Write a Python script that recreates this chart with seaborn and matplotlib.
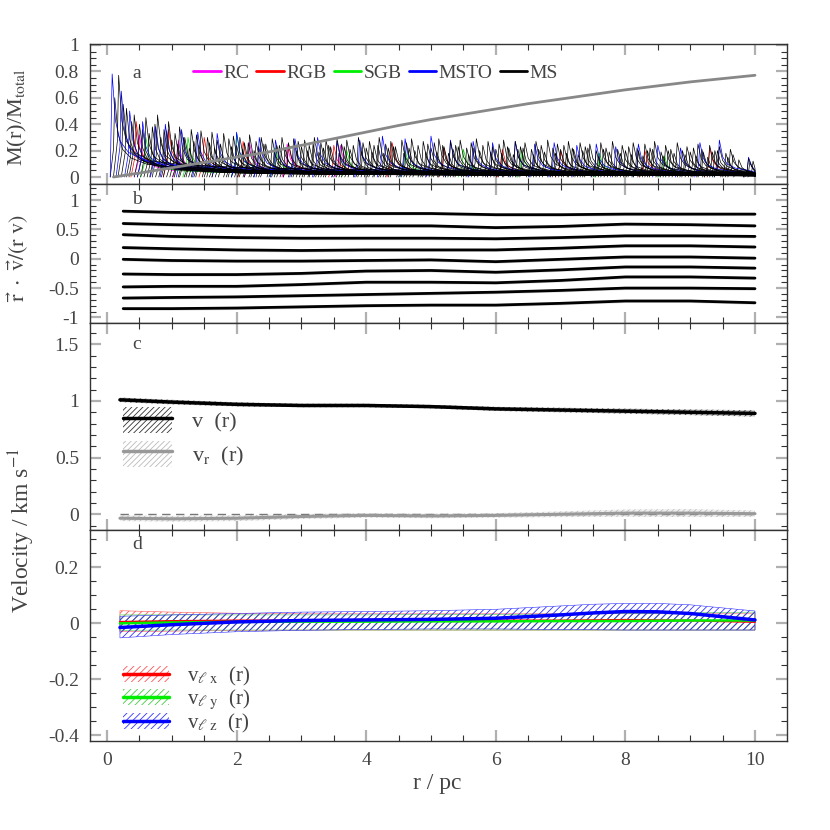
import numpy as np
import pandas as pd
import seaborn as sns
import matplotlib.pyplot as plt
from matplotlib.lines import Line2D
from matplotlib.patches import Patch
from matplotlib.ticker import MultipleLocator, FormatStrFormatter

# ---- panel a: peak positions / heights of the individual curves, per class
black_r = [0.18, 0.3, 0.42, 0.5, 0.6, 0.7, 0.78, 0.88, 0.95,
           1.05, 1.12, 1.2, 1.3, 1.38, 1.45, 1.55, 1.62, 1.7, 1.8, 1.88, 1.95,
           2.05, 2.12, 2.2, 2.3, 2.38, 2.45, 2.55, 2.62, 2.7, 2.8, 2.88, 2.95,
           3.05, 3.12, 3.2, 3.3, 3.38, 3.45, 3.55, 3.62, 3.7, 3.8, 3.88, 3.95,
           4.05, 4.12, 4.2, 4.3, 4.38, 4.45, 4.55, 4.62, 4.7, 4.8, 4.88, 4.95,
           5.05, 5.12, 5.2, 5.3, 5.38, 5.45, 5.55, 5.62, 5.7, 5.8, 5.88, 5.95,
           6.05, 6.12, 6.2, 6.3, 6.38, 6.45, 6.55, 6.62, 6.7, 6.8, 6.88, 6.95,
           7.05, 7.12, 7.2, 7.3, 7.38, 7.45, 7.55, 7.62, 7.7, 7.8, 7.88, 7.95,
           8.05, 8.12, 8.2, 8.3, 8.38, 8.45, 8.55, 8.62, 8.7, 8.8, 8.88, 8.95,
           9.05, 9.12, 9.2, 9.3, 9.38, 9.45, 9.55, 9.62, 9.9, 9.97]
black_h = [0.77, 0.52, 0.47, 0.40, 0.45, 0.38, 0.47, 0.36, 0.42,
           0.33, 0.38, 0.30, 0.36, 0.32, 0.35, 0.30, 0.34, 0.28, 0.33, 0.29, 0.31,
           0.30, 0.26, 0.32, 0.27, 0.30, 0.25, 0.29, 0.24, 0.30, 0.26, 0.29, 0.27,
           0.28, 0.24, 0.30, 0.26, 0.28, 0.23, 0.29, 0.25, 0.28, 0.24, 0.30, 0.26,
           0.27, 0.24, 0.30, 0.25, 0.27, 0.23, 0.28, 0.26, 0.29, 0.24, 0.27, 0.25,
           0.26, 0.29, 0.23, 0.27, 0.24, 0.28, 0.22, 0.26, 0.29, 0.24, 0.27, 0.23,
           0.25, 0.28, 0.22, 0.27, 0.23, 0.26, 0.21, 0.27, 0.24, 0.28, 0.22, 0.25,
           0.24, 0.27, 0.21, 0.26, 0.23, 0.25, 0.20, 0.26, 0.22, 0.27, 0.21, 0.24,
           0.23, 0.26, 0.20, 0.25, 0.22, 0.27, 0.19, 0.24, 0.21, 0.26, 0.20, 0.23,
           0.22, 0.25, 0.19, 0.24, 0.20, 0.23, 0.18, 0.21, 0.14, 0.12]
black2_r = [0.12, 0.25, 0.38, 0.55, 0.65, 0.74, 0.83, 0.92,
            1.0, 1.09, 1.18, 1.27, 1.34, 1.42, 1.58, 1.66, 1.75, 1.92,
            2.0, 2.09, 2.18, 2.27, 2.34, 2.42, 2.58, 2.66, 2.75, 2.92,
            3.0, 3.09, 3.18, 3.27, 3.34, 3.42, 3.58, 3.66, 3.75, 3.92,
            4.0, 4.09, 4.18, 4.27, 4.34, 4.42, 4.58, 4.66, 4.75, 4.92,
            5.0, 5.09, 5.18, 5.27, 5.34, 5.42, 5.58, 5.66, 5.75, 5.92,
            6.0, 6.09, 6.18, 6.27, 6.34, 6.42, 6.58, 6.66, 6.75, 6.92,
            7.0, 7.09, 7.18, 7.27, 7.34, 7.42, 7.58, 7.66, 7.75, 7.92,
            8.0, 8.09, 8.18, 8.27, 8.34, 8.42, 8.58, 8.66, 8.75, 8.92,
            9.0, 9.09, 9.18, 9.27, 9.34, 9.42, 9.58, 9.66, 9.75, 9.92]
black2_h = [0.60, 0.55, 0.42, 0.36, 0.33, 0.40, 0.30, 0.35,
            0.28, 0.25, 0.30, 0.22, 0.27, 0.24, 0.26, 0.22, 0.25, 0.23,
            0.24, 0.21, 0.26, 0.20, 0.23, 0.25, 0.19, 0.24, 0.22, 0.20,
            0.23, 0.20, 0.25, 0.19, 0.22, 0.24, 0.18, 0.23, 0.21, 0.20,
            0.22, 0.19, 0.24, 0.18, 0.22, 0.23, 0.18, 0.22, 0.20, 0.19,
            0.22, 0.19, 0.24, 0.18, 0.21, 0.23, 0.17, 0.22, 0.20, 0.19,
            0.21, 0.18, 0.23, 0.17, 0.21, 0.22, 0.17, 0.21, 0.19, 0.18,
            0.21, 0.18, 0.22, 0.17, 0.20, 0.22, 0.16, 0.21, 0.19, 0.18,
            0.20, 0.17, 0.22, 0.16, 0.20, 0.21, 0.16, 0.20, 0.18, 0.17,
            0.19, 0.16, 0.21, 0.15, 0.19, 0.20, 0.15, 0.17, 0.13, 0.11]
blue_r = [0.08, 0.22, 0.35, 0.55, 0.75, 0.9, 1.15, 1.4, 1.7, 2.0, 2.35, 2.6,
          2.9, 3.25, 3.55, 3.9, 4.25, 4.6, 5.0, 5.3, 5.65, 5.95, 6.3, 6.6,
          6.9, 7.25, 7.55, 7.85, 8.2, 8.5, 8.85, 9.15, 9.45, 9.9]
blue_h = [0.78, 0.65, 0.50, 0.42, 0.38, 0.40, 0.36, 0.34, 0.33, 0.34, 0.30, 0.28,
          0.29, 0.30, 0.27, 0.28, 0.31, 0.29, 0.31, 0.28, 0.27, 0.26, 0.27, 0.25,
          0.26, 0.24, 0.25, 0.23, 0.25, 0.24, 0.22, 0.26, 0.28, 0.15]
red_r = [0.45, 0.95, 1.5, 2.1, 2.8, 3.5, 4.4, 5.2, 6.1, 7.0, 8.3, 9.3]
red_h = [0.42, 0.36, 0.30, 0.27, 0.25, 0.24, 0.26, 0.22, 0.21, 0.20, 0.20, 0.22]
green_r = [0.6, 1.25, 2.0, 2.6, 3.7, 4.6, 5.5, 6.4, 7.6, 8.6]
green_h = [0.30, 0.30, 0.33, 0.22, 0.20, 0.20, 0.21, 0.20, 0.18, 0.16]
mag_r = [0.5, 1.1, 2.2, 2.78, 3.6]
mag_h = [0.32, 0.28, 0.26, 0.25, 0.24]
# common profile of one curve (offset from peak, fraction of peak)
shape_dr = [-0.08, -0.02, 0.0, 0.05, 0.12, 0.25, 0.5, 1.0, 2.0, 4.0, 8.0]
shape_f = [0.0, 0.35, 1.0, 0.55, 0.35, 0.24, 0.16, 0.12, 0.09, 0.07, 0.05]

mass_r = [0.1, 0.5, 1, 1.5, 2, 2.5, 3, 3.5, 4, 4.5, 5, 5.5, 6, 6.5, 7, 7.5, 8, 8.5, 9, 9.5, 10]
mass_f = [0.0, 0.03, 0.07, 0.11, 0.15, 0.19, 0.24, 0.29, 0.34, 0.39, 0.435, 0.475,
          0.515, 0.555, 0.59, 0.625, 0.66, 0.69, 0.72, 0.745, 0.77]

# ---- panel b
b_r = [0.25, 1, 2, 3, 4, 5, 6, 7, 8, 9, 10]
b_lines = [
    [0.81, 0.79, 0.78, 0.78, 0.77, 0.77, 0.75, 0.75, 0.76, 0.76, 0.76],
    [0.60, 0.58, 0.56, 0.55, 0.56, 0.56, 0.53, 0.55, 0.59, 0.58, 0.56],
    [0.41, 0.38, 0.36, 0.35, 0.35, 0.35, 0.34, 0.36, 0.39, 0.39, 0.38],
    [0.19, 0.17, 0.15, 0.14, 0.15, 0.15, 0.15, 0.18, 0.22, 0.22, 0.20],
    [-0.01, -0.03, -0.04, -0.04, -0.03, -0.02, -0.05, -0.01, 0.03, 0.03, 0.01],
    [-0.26, -0.27, -0.27, -0.25, -0.21, -0.20, -0.23, -0.19, -0.14, -0.14, -0.16],
    [-0.48, -0.47, -0.47, -0.44, -0.40, -0.40, -0.41, -0.37, -0.31, -0.31, -0.33],
    [-0.67, -0.66, -0.65, -0.63, -0.61, -0.59, -0.57, -0.54, -0.50, -0.50, -0.51],
    [-0.85, -0.85, -0.84, -0.82, -0.80, -0.79, -0.79, -0.76, -0.72, -0.72, -0.75],
]
b_err = 0.025

# ---- panel c
c_r = [0.2, 1, 2, 3, 4, 5, 6, 7, 8, 9, 10]
v_tot = [1.01, 0.99, 0.97, 0.96, 0.96, 0.95, 0.93, 0.92, 0.91, 0.90, 0.89]
v_tot_err = [0.02, 0.02, 0.018, 0.015, 0.015, 0.015, 0.018, 0.02, 0.022, 0.025, 0.028]
v_rad = [-0.035, -0.04, -0.035, -0.02, -0.01, -0.015, -0.01, 0.0, 0.01, 0.01, 0.005]
v_rad_err = [0.025, 0.025, 0.025, 0.022, 0.02, 0.02, 0.02, 0.025, 0.032, 0.035, 0.028]

# ---- panel d
d_r = [0.2, 1, 2, 3, 4, 5, 6, 7, 7.5, 8, 8.5, 9, 10]
v_lx = [0.005, 0.008, 0.01, 0.01, 0.012, 0.012, 0.01, 0.01, 0.011, 0.012, 0.011, 0.01, 0.005]
v_lx_lo = [-0.03, -0.028, -0.025, -0.024, -0.024, -0.024, -0.024, -0.024, -0.024, -0.024, -0.024, -0.024, -0.024]
v_lx_hi = [0.045, 0.04, 0.036, 0.034, 0.034, 0.034, 0.034, 0.034, 0.034, 0.034, 0.034, 0.034, 0.034]
v_ly = [0.0, 0.003, 0.005, 0.006, 0.006, 0.007, 0.007, 0.008, 0.008, 0.008, 0.009, 0.01, 0.01]
v_ly_lo = [-0.025, -0.024, -0.024, -0.024, -0.024, -0.024, -0.024, -0.024, -0.024, -0.024, -0.024, -0.024, -0.024]
v_ly_hi = [0.03, 0.03, 0.03, 0.03, 0.03, 0.031, 0.032, 0.033, 0.034, 0.035, 0.036, 0.038, 0.04]
v_lz = [-0.015, -0.005, 0.005, 0.01, 0.012, 0.014, 0.018, 0.03, 0.037, 0.042, 0.041, 0.035, 0.012]
v_lz_lo = [-0.052, -0.04, -0.03, -0.025, -0.022, -0.02, -0.02, -0.022, -0.023, -0.024, -0.024, -0.024, -0.024]
v_lz_hi = [0.025, 0.03, 0.035, 0.04, 0.042, 0.045, 0.05, 0.062, 0.068, 0.071, 0.071, 0.066, 0.044]

sns.set_style('ticks')
plt.rcParams['font.family'] = ['Liberation Serif', 'DejaVu Serif']
plt.rcParams['mathtext.fontset'] = 'stix'
plt.rcParams['hatch.linewidth'] = 0.6
txt = '#444444'

fig = plt.figure(figsize=(8.3, 8.3), dpi=100)
W = H = 830.0
def box(top, bot):
    return [90 / W, 1 - bot / H, 697 / W, (bot - top) / H]
ax_a = fig.add_axes(box(44, 184))
ax_b = fig.add_axes(box(184, 323))
ax_c = fig.add_axes(box(323, 530))
ax_d = fig.add_axes(box(530, 741))

def spikes(peak_r, peak_h):
    rows = []
    for i, (r0, h) in enumerate(zip(peak_r, peak_h)):
        for dr, f in zip(shape_dr, shape_f):
            rows.append((i, min(max(r0 + dr, 0.05), 10.0), h * f))
    return pd.DataFrame(rows, columns=['curve', 'r', 'f'])

# panel a
for pr, ph, col in [(mag_r, mag_h, '#ff00ff'), (red_r, red_h, '#ff0000'),
                    (green_r, green_h, '#00dd00'), (black2_r, black2_h, '#000000'),
                    (blue_r, blue_h, '#0000ff'), (black_r, black_h, '#000000')]:
    sns.lineplot(data=spikes(pr, ph), x='r', y='f', units='curve', estimator=None,
                 sort=False, color=col, lw=0.5, ax=ax_a, legend=False)
sns.lineplot(x=mass_r, y=mass_f, color='#888888', lw=2, ax=ax_a)
hand = [Line2D([], [], color=c, lw=2) for c in ['#ff00ff', '#ff0000', '#00ee00', '#0000ff', '#000000']]
ax_a.legend(hand, ['RC', 'RGB', 'SGB', 'MSTO', 'MS'], loc='center', bbox_to_anchor=(0.41, 0.79),
            ncol=5, frameon=False, handlelength=1.4, handletextpad=0.15, columnspacing=0.35,
            fontsize=14, labelcolor=txt)

# panel b
for ys in b_lines:
    lo = [y - b_err for y in ys]
    hi = [y + b_err for y in ys]
    ax_b.fill_between(b_r, lo, hi, color='#d9d9d9', lw=0)
    sns.lineplot(x=b_r, y=ys, color='black', lw=2, ax=ax_b)

# panel c
ax_c.hlines(0, c_r[0], c_r[-1], colors='#777777', linestyles=(0, (6, 4)), lw=1)
ax_c.fill_between(c_r, np.subtract(v_tot, v_tot_err), np.add(v_tot, v_tot_err),
                  facecolor='#cccccc', edgecolor='#333333', hatch='//////', lw=0)
ax_c.fill_between(c_r, np.subtract(v_rad, v_rad_err), np.add(v_rad, v_rad_err),
                  facecolor='#eeeeee', edgecolor='#bbbbbb', hatch='//////', lw=0)
sns.lineplot(x=c_r, y=v_tot, color='black', lw=2.5, ax=ax_c)
sns.lineplot(x=c_r, y=v_rad, color='#999999', lw=2.2, ax=ax_c)
hc = [(Patch(facecolor='white', edgecolor='#333333', hatch='//////', lw=0), Line2D([], [], color='black', lw=2.5)),
      (Patch(facecolor='white', edgecolor='#bbbbbb', hatch='//////', lw=0), Line2D([], [], color='#999999', lw=2.5))]
ax_c.legend(hc, ['v  (r)', r'v$_{\rm r}$  (r)'], loc='upper left', bbox_to_anchor=(0.035, 0.635),
            frameon=False, handlelength=2.2, handleheight=1.4, handletextpad=0.9,
            labelspacing=0.35, fontsize=16, labelcolor=txt, borderaxespad=0)

# panel d
for lo, hi, hcol in [(v_lx_lo, v_lx_hi, '#ff5555'), (v_ly_lo, v_ly_hi, '#44cc44'),
                     (v_lz_lo, v_lz_hi, '#3333ff')]:
    ax_d.fill_between(d_r, lo, hi, facecolor='none', edgecolor=hcol, hatch='/////', lw=0.4)
for ys, col, lw in [(v_lx, '#ff0000', 1.5), (v_ly, '#00ee00', 1.8), (v_lz, '#0000ff', 2.5)]:
    sns.lineplot(x=d_r, y=ys, color=col, lw=lw, ax=ax_d)
hd = [(Patch(facecolor='none', edgecolor=h, hatch='/////', lw=0), Line2D([], [], color=c, lw=2.5))
      for c, h in [('#ff0000', '#ff5555'), ('#00ee00', '#44cc44'), ('#0000ff', '#3333ff')]]
ax_d.legend(hd, [r'v$_{\ell\ {\rm x}}$  (r)', r'v$_{\ell\ {\rm y}}$  (r)', r'v$_{\ell\ {\rm z}}$  (r)'],
            loc='upper left', bbox_to_anchor=(0.035, 0.40), frameon=False, handlelength=2.2,
            handleheight=0.8, handletextpad=0.9, labelspacing=0.0, fontsize=15,
            labelcolor=txt, borderaxespad=0)

# axes styling
limits = [(ax_a, (-0.053, 1.007), 0.2, 0.05, 'a', 0.79),
          (ax_b, (-1.095, 1.273), 0.5, 0.1, 'b', 0.89),
          (ax_c, (-0.139, 1.688), 0.5, 0.1, 'c', 0.895),
          (ax_d, (-0.420, 0.333), 0.2, 0.05, 'd', 0.93)]
for ax, yl, maj, mnr, lab, ly in limits:
    ax.set_xlim(-0.262, 10.494)
    ax.set_ylim(*yl)
    ax.xaxis.set_major_locator(MultipleLocator(2))
    ax.xaxis.set_minor_locator(MultipleLocator(0.5))
    ax.yaxis.set_major_locator(MultipleLocator(maj))
    ax.yaxis.set_minor_locator(MultipleLocator(mnr))
    ax.yaxis.set_major_formatter(FormatStrFormatter('%g'))
    ax.xaxis.set_major_formatter(FormatStrFormatter('%g'))
    ax.tick_params(which='both', direction='in', top=True, right=True, labelcolor=txt, labelsize=14)
    ax.tick_params(which='major', length=8, width=1.6, color='#b0b0b0', pad=8)
    ax.tick_params(which='minor', length=4, width=0.8, color='#333333')
    for s in ax.spines.values():
        s.set_color('#333333')
        s.set_linewidth(1)
    ax.set_xlabel('')
    ax.set_ylabel('')
    if ax is not ax_d:
        ax.tick_params(labelbottom=False)
    ax.text(0.067, ly, lab, transform=ax.transAxes, fontsize=14, color=txt, ha='center', va='center')

ax_a.set_ylabel(r'M(r)/M$_{\rm total}$', fontsize=16, color=txt)
ax_a.yaxis.set_label_coords(-0.088, 0.48)
ax_b.set_ylabel(r'$\vec{\rm r}\ \cdot\ \vec{\rm v}/({\rm r\ v})$', fontsize=16, color=txt)
ax_b.yaxis.set_label_coords(-0.085, 0.47)
fig.text(22 / W, 1 - 530 / H, r'Velocity / km s$^{-1}$', rotation=90, fontsize=17,
         color=txt, ha='center', va='center')
fig.text(437 / W, 1 - 783 / H, 'r / pc', fontsize=17, color=txt, ha='center', va='center')

fig.savefig('out.png', dpi=100)
